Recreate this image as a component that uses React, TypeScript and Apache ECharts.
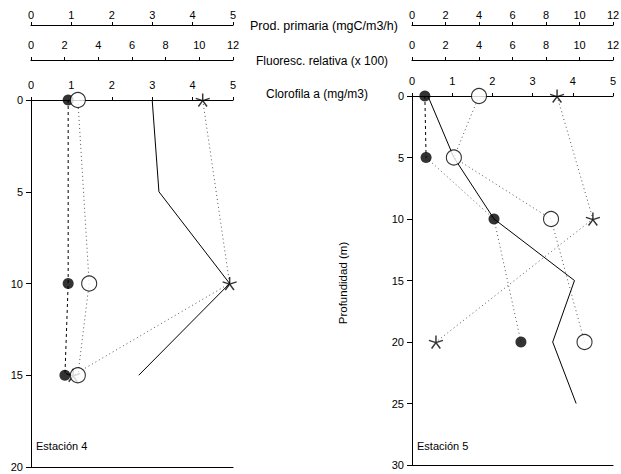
import React, { useEffect, useRef } from "react";
import * as echarts from "echarts";

// Estación 4
const depths4 = [0, 10, 15];
const chl4 = [0.92, 0.92, 0.84];
const prod4 = [1.16, 1.44, 1.16];
const fluor4 = [10.2, 11.8, 2.5];
const profileDepths4 = [0, 5, 10, 15];
const profile4 = [7.2, 7.6, 11.8, 6.4];

// Estación 5
const depths5 = [0, 5, 10, 20];
const chl5 = [0.32, 0.35, 2.04, 2.71];
const prod5 = [4.0, 2.5, 8.3, 10.3];
const fluorDepths5 = [0, 10, 20];
const fluor5 = [8.66, 10.8, 1.43];
const profileDepths5 = [0, 5, 10, 15, 20, 25];
const profile5 = [0.95, 2.5, 4.9, 9.7, 8.4, 9.8];

const FONT = "Liberation Sans";
const STAR =
  "path://M10 0 L10 10 M10 10 L19.5 6.9 M10 10 L15.9 18.1 M10 10 L4.1 18.1 M10 10 L0.5 6.9";

const pair = (xs: number[], ds: number[]) => xs.map((x, i) => [x, ds[i]]);

function topAxis(grid: number, max: number, interval: number, offset: number, margin: number) {
  return {
    type: "value",
    gridIndex: grid,
    position: "top",
    offset,
    min: 0,
    max,
    interval,
    axisLine: { show: true, onZero: false, lineStyle: { color: "#000", width: 1.2 } },
    axisTick: { show: true, length: 3, lineStyle: { color: "#000" } },
    axisLabel: { margin, color: "#000", fontFamily: FONT, fontSize: 11 },
    splitLine: { show: false },
  };
}

function bottomAxis(grid: number) {
  return {
    type: "value",
    gridIndex: grid,
    position: "bottom",
    min: 0,
    max: 5,
    axisLine: { show: true, onZero: false, lineStyle: { color: "#000", width: 1.2 } },
    axisTick: { show: false },
    axisLabel: { show: false },
    splitLine: { show: false },
  };
}

function depthAxis(grid: number, max: number) {
  return {
    type: "value",
    gridIndex: grid,
    inverse: true,
    min: 0,
    max,
    interval: 5,
    axisLine: { show: true, onZero: false, lineStyle: { color: "#000", width: 1 } },
    axisTick: { show: true, length: 5, lineStyle: { color: "#000" } },
    axisLabel: { margin: 8, color: "#000", fontFamily: FONT, fontSize: 11 },
    splitLine: { show: false },
  };
}

const dotted = { color: "#555", width: 1, type: [1, 3] as any };
const dashed = { color: "#000", width: 1, type: [3, 3] as any };

function lineSeries(xi: number, yi: number, data: number[][], lineStyle: any, z = 2) {
  return {
    type: "line",
    xAxisIndex: xi,
    yAxisIndex: yi,
    data,
    symbol: "none",
    lineStyle,
    z,
    silent: true,
  };
}

function markers(xi: number, yi: number, data: number[][], kind: "filled" | "open" | "star") {
  const base: any = {
    type: "scatter",
    xAxisIndex: xi,
    yAxisIndex: yi,
    data,
    silent: true,
  };
  if (kind === "filled") {
    return { ...base, symbol: "circle", symbolSize: 11, itemStyle: { color: "#000" }, z: 5 };
  }
  if (kind === "open") {
    return {
      ...base,
      symbol: "circle",
      symbolSize: 15,
      itemStyle: { color: "#fff", borderColor: "#000", borderWidth: 1.1 },
      z: 7,
    };
  }
  return {
    ...base,
    symbol: STAR,
    symbolSize: [14, 13],
    itemStyle: { color: "rgba(0,0,0,0)", borderColor: "#000", borderWidth: 1.4 },
    z: 6,
  };
}

const txt = (x: number, y: number, text: string, size = 11) => ({
  type: "text",
  x,
  y,
  style: { text, fill: "#000", font: `${size}px "${FONT}"`, textVerticalAlign: "middle" },
});

export default function App() {
  const ref = useRef<HTMLDivElement>(null);
  useEffect(() => {
    if (!ref.current) return;
    const chart = echarts.init(ref.current, null, { renderer: "svg" });
    chart.setOption({
      animation: false,
      backgroundColor: "#fff",
      grid: [
        { left: 31, top: 100, width: 202, height: 367, outerBoundsMode: "none" },
        { left: 412, top: 96, width: 201, height: 369, outerBoundsMode: "none" },
      ],
      xAxis: [
        topAxis(0, 5, 1, 0, 10),
        topAxis(0, 12, 2, 40, 10),
        topAxis(0, 5, 1, 75, 5),
        bottomAxis(0),
        topAxis(1, 5, 1, 0, 10),
        topAxis(1, 12, 2, 36, 10),
        topAxis(1, 12, 2, 71, 5),
        bottomAxis(1),
      ],
      yAxis: [depthAxis(0, 20), depthAxis(1, 30)],
      series: [
        // Estación 4
        lineSeries(1, 0, pair(profile4, profileDepths4), { color: "#000", width: 1 }, 3),
        lineSeries(0, 0, pair(chl4, depths4), dashed),
        lineSeries(2, 0, pair(prod4, depths4), dotted),
        lineSeries(1, 0, pair(fluor4, depths4), dotted),
        markers(0, 0, pair(chl4, depths4), "filled"),
        markers(1, 0, pair(fluor4, depths4), "star"),
        markers(2, 0, pair(prod4, depths4), "open"),
        // Estación 5
        lineSeries(5, 1, pair(profile5, profileDepths5), { color: "#000", width: 1 }, 3),
        lineSeries(4, 1, pair(chl5.slice(0, 2), depths5.slice(0, 2)), dashed),
        lineSeries(4, 1, pair(chl5.slice(1), depths5.slice(1)), dotted),
        lineSeries(6, 1, pair(prod5, depths5), dotted),
        lineSeries(5, 1, pair(fluor5, fluorDepths5), dotted),
        markers(4, 1, pair(chl5, depths5), "filled"),
        markers(5, 1, pair(fluor5, fluorDepths5), "star"),
        markers(6, 1, pair(prod5, depths5), "open"),
      ],
      graphic: [
        txt(250, 26, "Prod. primaria (mgC/m3/h)", 12.5),
        txt(256, 61, "Fluoresc. relativa (x 100)", 12),
        txt(266, 94, "Clorofila a (mg/m3)", 12),
        txt(36, 446, "Estación 4", 11),
        txt(417, 446, "Estación 5", 11),
        {
          type: "text",
          x: 343,
          y: 283,
          rotation: Math.PI / 2,
          style: {
            text: "Profundidad (m)",
            fill: "#000",
            font: `11.5px "${FONT}"`,
            textAlign: "center",
            textVerticalAlign: "middle",
          },
        },
      ],
    });
    return () => chart.dispose();
  }, []);
  return (
    <div
      ref={ref}
      style={{ position: "fixed", left: 0, top: 0, width: 621, height: 474, background: "#fff" }}
    />
  );
}
